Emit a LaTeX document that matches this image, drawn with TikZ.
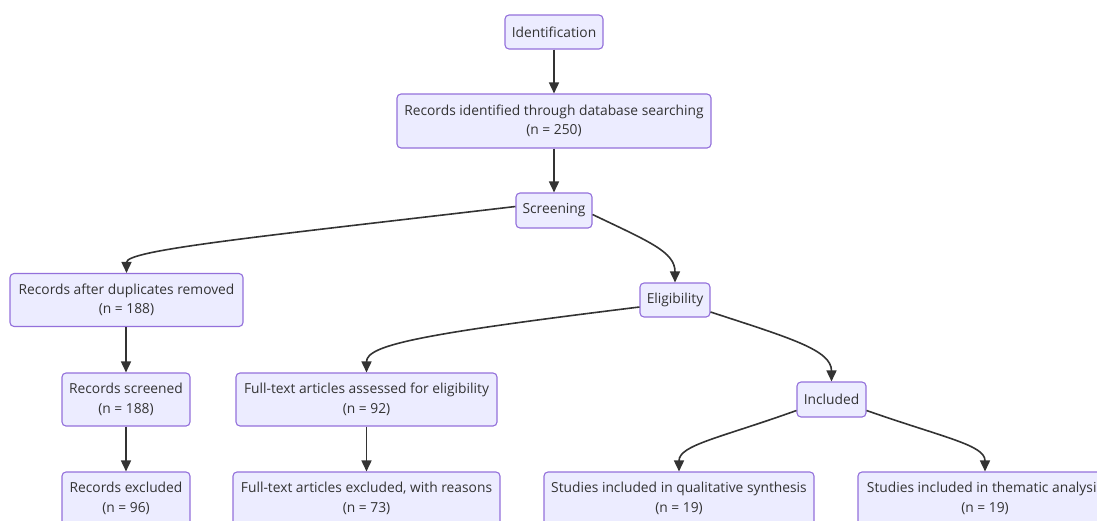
\documentclass[tikz,border=0pt]{standalone}
\usepackage{fontspec}
\setmainfont{Open Sans}
\usetikzlibrary{arrows.meta}
\definecolor{boxfill}{HTML}{ECECFF}
\definecolor{boxline}{HTML}{9370DB}
\definecolor{linkcol}{HTML}{333333}
\definecolor{txtcol}{HTML}{333333}
\tikzset{
  box/.style={draw=boxline, fill=boxfill, line width=1.1pt, rounded corners=4pt,
    inner sep=0pt, align=center, text=txtcol,
    font=\fontsize{13.8}{19.5}\selectfont},
  link/.style={draw=linkcol, line width=1.6pt,
    -{Triangle[length=11pt,width=10pt]}}
}
\begin{document}
\begin{tikzpicture}[x=1pt,y=-1pt]
\useasboundingbox (0,0) rectangle (1097,520);
\clip (0,0) rectangle (1097,520);
\node[box, minimum width=98pt, minimum height=34pt] (ident) at (554,32) {Identification};
\node[box, minimum width=314pt, minimum height=54pt] (recid) at (554,121) {Records identified through database searching\\(n = 250)};
\node[box, minimum width=76pt, minimum height=35pt] (screen) at (554,210.5) {Screening};
\node[box, minimum width=233pt, minimum height=53pt] (dup) at (126.5,300) {Records after duplicates removed\\(n = 188)};
\node[box, minimum width=128pt, minimum height=53pt] (scr) at (126,399.5) {Records screened\\(n = 188)};
\node[box, minimum width=128pt, minimum height=53pt] (excl) at (126,498.5) {Records excluded\\(n = 96)};
\node[box, minimum width=70pt, minimum height=34pt] (elig) at (675,300) {Eligibility};
\node[box, minimum width=261pt, minimum height=53pt] (fta) at (366.5,399.5) {Full-text articles assessed for eligibility\\(n = 92)};
\node[box, minimum width=267pt, minimum height=53pt] (fte) at (366.5,498.5) {Full-text articles excluded, with reasons\\(n = 73)};
\node[box, minimum width=69pt, minimum height=35pt] (incl) at (831.5,399.5) {Included};
\node[box, minimum width=270pt, minimum height=53pt] (qual) at (679,498.5) {Studies included in qualitative synthesis\\(n = 19)};
\node[box, minimum width=254pt, minimum height=53pt] (them) at (985,498.5) {Studies included in thematic analysis\\(n = 19)};

\draw[link] (ident.south) -- (recid.north);
\draw[link] (recid.south) -- (screen.north);
\draw[link] ([yshift=4pt]screen.west) .. controls (256,237) and (126.5,250) .. (dup.north);
\draw[link] ([yshift=-4pt]screen.east) .. controls (650,242) and (675,252) .. (elig.north);
\draw[link] (scr.north |- dup.south) -- (scr.north);
\draw[link] (scr.south) -- (excl.north);
\draw[link] ([yshift=-7pt]elig.west) .. controls (420,334) and (366.5,345) .. (fta.north);
\draw[link] (fta.south) -- (fte.north);
\draw[link] ([yshift=-12pt]elig.east) .. controls (790,338) and (831.5,350) .. (incl.north);
\draw[link] ([yshift=-11pt]incl.west) .. controls (720,438) and (679,445) .. (qual.north);
\draw[link] ([yshift=-11pt]incl.east) .. controls (945,438) and (985,445) .. (them.north);
\end{tikzpicture}
\end{document}
